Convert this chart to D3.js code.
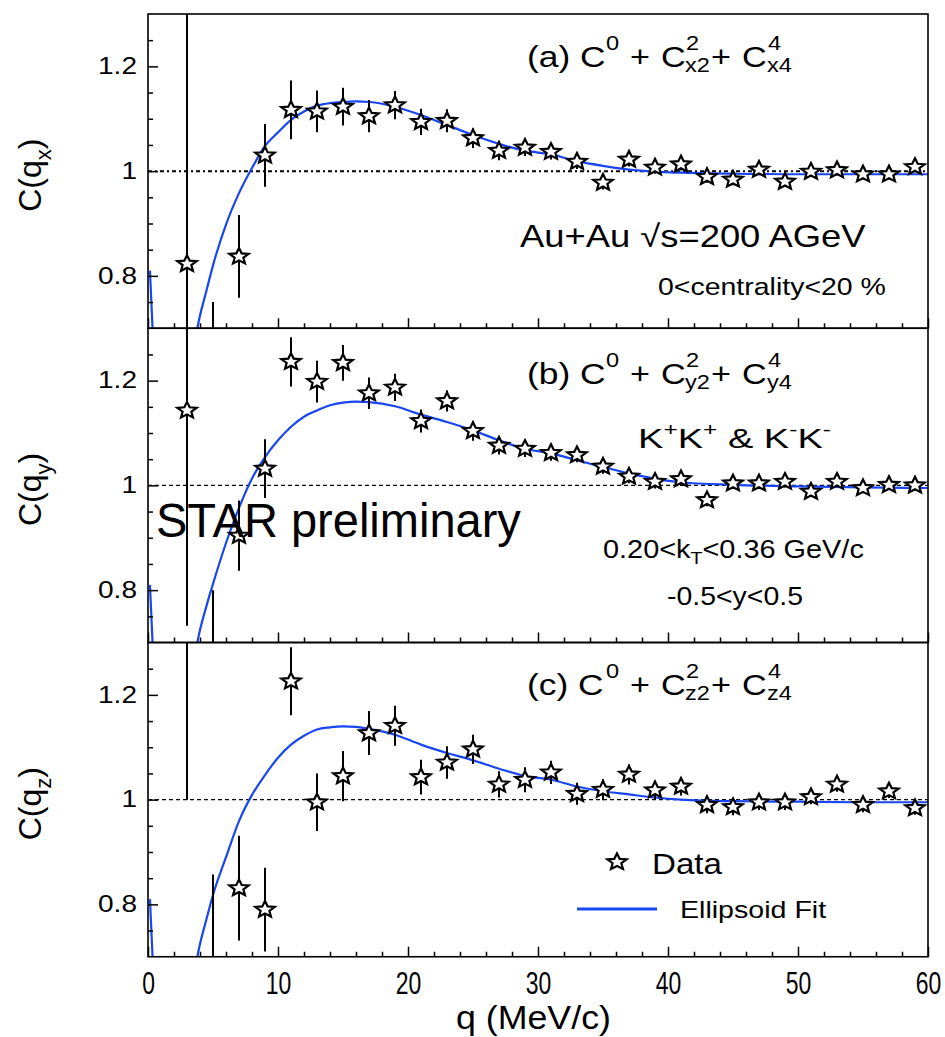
<!DOCTYPE html>
<html><head><meta charset="utf-8">
<script src="https://cdn.jsdelivr.net/npm/d3@7/dist/d3.min.js"></script>
<style>
body{margin:0;background:#fff}
svg{display:block}
text{font-family:"Liberation Sans",Arimo,Arial,Helvetica,sans-serif;fill:#000}
</style></head>
<body><svg id="chart" width="945" height="1037"></svg>
<script>
// ---------------- data ----------------
const qData = [3,5,7,9,11,13,15,17,19,21,23,25,27,29,31,33,35,37,39,41,43,45,47,49,51,53,55,57,59];

const cxVal = [0.823,0.45,0.837,1.030,1.117,1.114,1.123,1.105,1.126,1.094,1.096,1.063,1.039,1.045,1.037,1.018,0.978,1.022,1.007,1.013,0.989,0.984,1.003,0.980,0.999,1.002,0.994,0.994,1.008];
const cxErr = [0.55,0.30,0.079,0.060,0.056,0.040,0.036,0.031,0.027,0.025,0.022,0.019,0.018,0.016,0.015,0.014,0.013,0.013,0.012,0.012,0.011,0.011,0.011,0.010,0.010,0.010,0.010,0.010,0.010];

const cyVal = [1.143,0.50,0.904,1.032,1.236,1.198,1.234,1.176,1.187,1.123,1.161,1.104,1.076,1.070,1.062,1.058,1.036,1.017,1.007,1.012,0.972,1.004,1.004,1.007,0.988,1.007,0.995,1.001,1.000];
const cyErr = [0.411,0.30,0.067,0.056,0.047,0.040,0.034,0.030,0.026,0.022,0.020,0.019,0.017,0.016,0.015,0.014,0.014,0.013,0.013,0.012,0.012,0.011,0.011,0.011,0.010,0.010,0.010,0.010,0.010];

const czVal = [1.45,0.60,0.831,0.790,1.226,0.995,1.045,1.127,1.141,1.043,1.071,1.096,1.029,1.038,1.052,1.011,1.019,1.048,1.018,1.025,0.990,0.986,0.995,0.995,1.005,1.029,0.990,1.016,0.984];
const czErr = [0.45,0.257,0.10,0.08,0.065,0.055,0.048,0.042,0.038,0.033,0.031,0.028,0.025,0.024,0.022,0.021,0.020,0.019,0.018,0.017,0.016,0.016,0.015,0.015,0.014,0.014,0.014,0.013,0.013];

// ellipsoid fit curves
const fitQ = [0.15,0.35,1,2,3,3.8,4.5,5,6,7,8,9,10,11,12,13,14,15,16,17,19,21,23,25,27,29,31,33,35,37,39,41,45,50,55,60];
const fitX = [0.81,0.70,0.50,0.45,0.55,0.70,0.772,0.82,0.898,0.958,1.006,1.048,1.074,1.098,1.114,1.125,1.130,1.132,1.133,1.132,1.123,1.107,1.088,1.069,1.052,1.039,1.032,1.019,1.010,1.003,0.999,0.997,0.995,0.994,0.994,0.994];
const fitY = [0.81,0.70,0.50,0.45,0.55,0.70,0.770,0.812,0.89,0.957,1.013,1.054,1.086,1.112,1.131,1.143,1.153,1.158,1.160,1.159,1.151,1.135,1.121,1.105,1.086,1.070,1.061,1.048,1.035,1.023,1.013,1.006,1.001,0.998,0.996,0.995];
const fitZ = [0.81,0.70,0.50,0.45,0.55,0.70,0.772,0.818,0.890,0.959,1.009,1.047,1.080,1.105,1.122,1.134,1.138,1.140,1.139,1.135,1.124,1.105,1.089,1.075,1.059,1.045,1.038,1.025,1.016,1.010,1.004,1.000,0.997,0.996,0.995,0.995];

const xMajor = [0,10,20,30,40,50,60];
const xMinor = [2,4,6,8,12,14,16,18,22,24,26,28,32,34,36,38,42,44,46,48,52,54,56,58];
const yMajor = [0.8,1,1.2];
const yMinor = [0.75,0.85,0.9,0.95,1.05,1.1,1.15,1.25];
const panelLetters = ["a","b","c"];
const panelAxes = ["x","y","z"];

// ---------------- layout ----------------
const svg = d3.select("#chart");
const L = 148, R = 928, T0 = 14, PH = 314.25;
const BLUE = "#1746f2";
const x = d3.scaleLinear().domain([0,60]).range([L,R]);

function starPath(Ro, Ri, sx){
  const p = [];
  for(let i=0;i<10;i++){
    const a = -Math.PI/2 + i*Math.PI/5, r = i%2 ? Ri : Ro;
    p.push([Math.cos(a)*r*sx, Math.sin(a)*r]);
  }
  return "M" + p.map(d=>d[0].toFixed(2)+","+d[1].toFixed(2)).join("L") + "Z";
}
const STAR = starPath(8.6, 3.9, 1.18);

function fitText(g, build, x0, x1, y){
  const t = g.append("text").attr("x",0).attr("y",0);
  build(t);
  const bb = t.node().getBBox();
  const k = (x1-x0)/bb.width;
  t.attr("transform",`translate(${x0 - bb.x*k},${y}) scale(${k},1)`);
  return t;
}

const panels = [
  {val:cxVal, err:cxErr, fit:fitX, titleY:67},
  {val:cyVal, err:cyErr, fit:fitY, titleY:384},
  {val:czVal, err:czErr, fit:fitZ, titleY:695}
];

const defs = svg.append("defs");

panels.forEach((P, pi) => {
  const top = T0 + pi*PH, bot = top + PH;
  const y = d3.scaleLinear().domain([0.7,1.3]).range([bot, top]);
  const g = svg.append("g");
  const cid = "clip"+pi;
  defs.append("clipPath").attr("id",cid).append("rect")
    .attr("x",L).attr("y",top).attr("width",R-L).attr("height",PH);
  const plot = g.append("g").attr("clip-path",`url(#${cid})`);

  // dashed unity line
  plot.append("line").attr("x1",L).attr("x2",R).attr("y1",y(1)).attr("y2",y(1))
    .attr("stroke","#000").attr("stroke-width", pi===0?2:1.4)
    .attr("stroke-dasharray", pi===0?"4,3,2,3":"4,3");

  // fit curve
  const line = d3.line().x((d,i)=>x(fitQ[i])).y(d=>y(d)).curve(d3.curveMonotoneX);
  plot.append("path").attr("d", line(P.fit)).attr("fill","none")
    .attr("stroke",BLUE).attr("stroke-width",2.2);

  // error bars
  plot.selectAll(".eb").data(P.val).enter().append("line")
    .attr("x1",(d,i)=>x(qData[i])).attr("x2",(d,i)=>x(qData[i]))
    .attr("y1",(d,i)=>y(d+P.err[i])).attr("y2",(d,i)=>y(d-P.err[i]))
    .attr("stroke","#000").attr("stroke-width",2);

  // stars
  plot.selectAll(".st").data(P.val).enter().append("path")
    .attr("d",STAR)
    .attr("transform",(d,i)=>`translate(${x(qData[i])},${y(d)})`)
    .attr("fill","#fff").attr("stroke","#000").attr("stroke-width",2.2)
    .attr("stroke-linejoin","miter");

  // axes ticks (inward)
  const axB = g.append("g").attr("transform",`translate(0,${bot})`);
  axB.call(d3.axisBottom(x).tickValues(xMinor).tickSize(-5).tickFormat(""));
  const axBM = g.append("g").attr("transform",`translate(0,${bot})`);
  axBM.call(d3.axisBottom(x).tickValues(xMajor).tickSize(-10).tickPadding(15)
    .tickFormat(pi===2 ? d3.format("d") : ""));
  const axL = g.append("g").attr("transform",`translate(${L},0)`);
  axL.call(d3.axisLeft(y).tickValues(yMinor).tickSize(-5).tickFormat(""));
  const axLM = g.append("g").attr("transform",`translate(${L},0)`);
  axLM.call(d3.axisLeft(y).tickValues(yMajor).tickSize(-10).tickPadding(11)
    .tickFormat(d => d===1 ? "1" : d3.format(".1f")(d)));
  [axB,axBM,axL,axLM].forEach(a=>{
    a.select(".domain").remove();
    a.selectAll("line").attr("stroke","#000").attr("stroke-width",1.5);
  });
  axLM.selectAll("text").attr("font-size",23).attr("font-family",null)
    .attr("x",-11/1.22).attr("transform","scale(1.22,1)");
  if(pi===2){
    axBM.selectAll("text").attr("font-size",31).attr("font-family",null)
      .attr("transform","scale(0.74,1)");
  }

  // frame
  g.append("rect").attr("x",L).attr("y",top).attr("width",R-L).attr("height",PH)
    .attr("fill","none").attr("stroke","#000").attr("stroke-width",1.6);

  // panel title: (a) C^0 + C^2_x2 + C^4_x4
  const a = panelAxes[pi];
  const parts = [
    {t:`(${panelLetters[pi]}) C`, dx:0, dy:0, s:29, k:1.22},
    {t:"0", dx:79, dy:-17, s:20, k:1.18},
    {t:"+", dx:103, dy:0, s:29, k:1.18},
    {t:"C", dx:134, dy:0, s:29, k:1.18},
    {t:"2", dx:159, dy:-17, s:20, k:1.18},
    {t:a+"2", dx:158, dy:5, s:20, k:1.18},
    {t:"+", dx:184, dy:0, s:29, k:1.18},
    {t:"C", dx:215, dy:0, s:29, k:1.18},
    {t:"4", dx:241, dy:-17, s:20, k:1.18},
    {t:a+"4", dx:240, dy:5, s:20, k:1.18}
  ];
  parts.forEach(p=>{
    g.append("text").attr("font-size",p.s)
      .attr("transform",`translate(${527+p.dx},${P.titleY+p.dy}) scale(${p.k},1)`)
      .text(p.t);
  });

  // y-axis title C(q_x)
  const yt = g.append("text").attr("font-size",32).attr("text-anchor","middle")
    .attr("transform",`translate(41,${(top+bot)/2+4}) rotate(-90)`);
  yt.append("tspan").text("C(q");
  yt.append("tspan").attr("font-size",22).attr("dy",10).text(a);
  yt.append("tspan").attr("dy",-10).text(")");
});

// ---------------- annotations ----------------
const ann = svg.append("g");
fitText(ann, t=>t.attr("font-size",31).text("Au+Au \u221As=200 AGeV"), 520, 866, 247);
fitText(ann, t=>t.attr("font-size",24).text("0<centrality<20 %"), 658, 886, 295);
fitText(ann, t=>{
  t.attr("font-size",28);
  t.append("tspan").text("K");
  t.append("tspan").attr("font-size",18).attr("dy",-12).text("+");
  t.append("tspan").attr("dy",12).text("K");
  t.append("tspan").attr("font-size",18).attr("dy",-12).text("+");
  t.append("tspan").attr("dy",12).text(" & K");
  t.append("tspan").attr("font-size",18).attr("dy",-12).text("-");
  t.append("tspan").attr("dy",12).text("K");
  t.append("tspan").attr("font-size",18).attr("dy",-12).text("-");
}, 638, 831, 448);
fitText(ann, t=>{
  t.attr("font-size",25);
  t.append("tspan").text("0.20<k");
  t.append("tspan").attr("font-size",17).attr("dy",6).text("T");
  t.append("tspan").attr("dy",-6).text("<0.36 GeV/c");
}, 603, 864, 558);
fitText(ann, t=>t.attr("font-size",25).text("-0.5<y<0.5"), 667, 803, 605);
fitText(ann, t=>t.attr("font-size",48).text("STAR preliminary"), 156, 521, 537);

// legend
ann.append("path").attr("d",STAR).attr("transform","translate(617,862)")
  .attr("fill","#fff").attr("stroke","#000").attr("stroke-width",2.2);
fitText(ann, t=>t.attr("font-size",29).text("Data"), 652, 723, 874);
ann.append("line").attr("x1",577).attr("x2",657).attr("y1",909).attr("y2",909)
  .attr("stroke",BLUE).attr("stroke-width",3);
fitText(ann, t=>t.attr("font-size",23).text("Ellipsoid Fit"), 680, 827, 918);

// x-axis title
fitText(ann, t=>t.attr("font-size",34).text("q (MeV/c)"), 456, 611, 1029);
</script></body></html>
